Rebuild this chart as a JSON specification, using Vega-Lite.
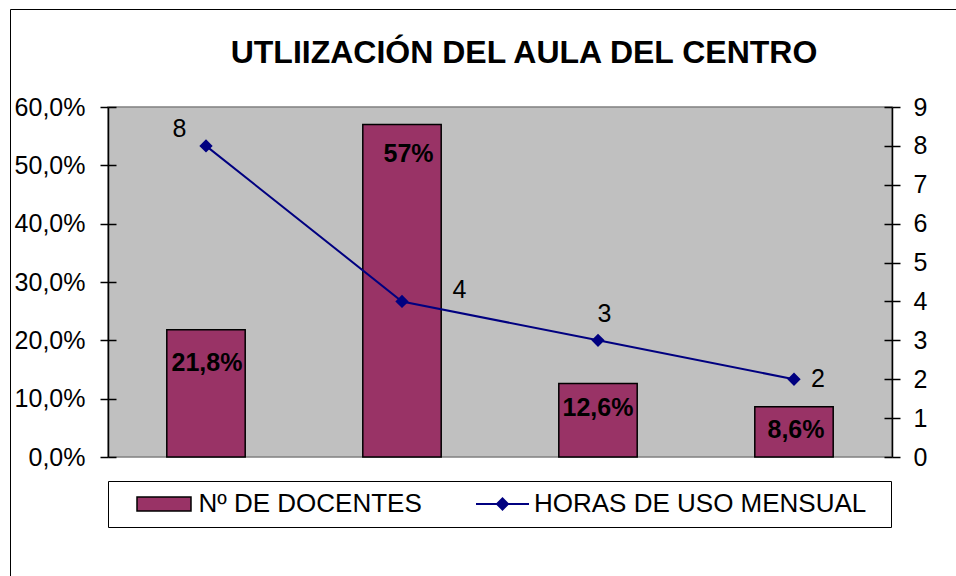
{
  "$schema": "https://vega.github.io/schema/vega-lite/v6.json",
  "width": 784,
  "height": 350,
  "autosize": {"type": "none"},
  "padding": {"left": 108, "top": 107, "right": 64, "bottom": 119},
  "background": "white",
  "title": {
    "text": "UTLIIZACIÓN DEL AULA DEL CENTRO",
    "fontSize": 32,
    "font": "Liberation Sans",
    "fontWeight": "bold",
    "color": "black",
    "anchor": "middle",
    "frame": "group",
    "dx": 24,
    "baseline": "alphabetic",
    "offset": -86
  },
  "data": {
    "values": [
      {"cat": "1", "docentes": 0.218, "horas": 8, "etq": "21,8%"},
      {"cat": "2", "docentes": 0.57, "horas": 4, "etq": "57%"},
      {"cat": "3", "docentes": 0.126, "horas": 3, "etq": "12,6%"},
      {"cat": "4", "docentes": 0.086, "horas": 2, "etq": "8,6%"}
    ]
  },
  "encoding": {
    "x": {"field": "cat", "type": "nominal", "scale": {"paddingInner": 0.6, "paddingOuter": 0.3}, "axis": null}
  },
  "layer": [
    {
      "layer": [
        {
          "mark": {"type": "bar", "stroke": "black", "strokeWidth": 1.5},
          "encoding": {
            "y": {
              "field": "docentes", "type": "quantitative",
              "scale": {"domain": [0, 0.6], "nice": false},
              "axis": {
                "orient": "left", "title": null, "values": [0, 0.1, 0.2, 0.3, 0.4, 0.5, 0.6],
                "labelExpr": "replace(format(datum.value * 100, '.1f'), '.', ',') + '%'",
                "grid": false, "domain": true, "domainColor": "black", "domainWidth": 1.5,
                "ticks": true, "tickColor": "black", "tickWidth": 1.5, "tickSize": 8,
                "labelFontSize": 25, "labelFont": "Liberation Sans", "labelColor": "black", "labelPadding": 15
              }
            },
            "color": {
              "datum": "Nº DE DOCENTES",
              "scale": {"domain": ["Nº DE DOCENTES"], "range": ["#993366"]},
              "legend": {
                "title": null, "orient": "none", "legendX": 0, "legendY": 374, "direction": "horizontal",
                "labelFontSize": 26, "labelFont": "Liberation Sans", "labelColor": "black", "labelLimit": 0,
                "labelOffset": 21.5, "padding": 10,
                "strokeColor": "black",
                "symbolType": "M101.86,0M-3.857,-1H3.857V1H-3.857Z",
                "symbolSize": 196, "symbolStrokeWidth": 1.5, "symbolStrokeColor": "black", "symbolOffset": 33
              }
            }
          }
        },
        {
          "transform": [{"filter": "datum.cat == '1'"}],
          "mark": {"type": "text", "fontWeight": "bold", "fontSize": 25, "font": "Liberation Sans", "color": "black", "baseline": "alphabetic", "align": "center", "dx": 1, "dy": 41},
          "encoding": {
            "y": {"field": "docentes", "type": "quantitative",
              "axis": {"orient": "left", "offset": -8, "title": null, "labels": false, "domain": false, "grid": false,
                "values": [0, 0.1, 0.2, 0.3, 0.4, 0.5, 0.6], "ticks": true, "tickColor": "black", "tickWidth": 1.5, "tickSize": 8}},
            "text": {"field": "etq"},
            "opacity": {
              "datum": "marco", "type": "ordinal",
              "scale": {"domain": ["marco"], "range": [1]},
              "legend": {
                "title": null, "orient": "none", "legendX": -98, "legendY": -98,
                "padding": 0, "strokeColor": "black",
                "symbolType": "M0,0M1200,900", "symbolSize": 4, "symbolStrokeWidth": 0,
                "labelExpr": "''", "labelFontSize": 1, "labelOffset": 0
              }
            }
          }
        },
        {
          "transform": [{"filter": "datum.cat == '2'"}],
          "mark": {"type": "text", "fontWeight": "bold", "fontSize": 25, "font": "Liberation Sans", "color": "black", "baseline": "alphabetic", "align": "center", "dx": 6.5, "dy": 37.5},
          "encoding": {"y": {"field": "docentes", "type": "quantitative", "axis": null}, "text": {"field": "etq"}}
        },
        {
          "transform": [{"filter": "datum.cat == '3'"}],
          "mark": {"type": "text", "fontWeight": "bold", "fontSize": 25, "font": "Liberation Sans", "color": "black", "baseline": "alphabetic", "align": "center", "dx": 0, "dy": 32.5},
          "encoding": {"y": {"field": "docentes", "type": "quantitative", "axis": null}, "text": {"field": "etq"}}
        },
        {
          "transform": [{"filter": "datum.cat == '4'"}],
          "mark": {"type": "text", "fontWeight": "bold", "fontSize": 25, "font": "Liberation Sans", "color": "black", "baseline": "alphabetic", "align": "center", "dx": 2, "dy": 31},
          "encoding": {"y": {"field": "docentes", "type": "quantitative", "axis": null}, "text": {"field": "etq"}}
        }
      ],
      "resolve": {"axis": {"y": "independent"}}
    },
    {
      "layer": [
        {
          "mark": {"type": "line", "strokeWidth": 2, "point": {"filled": true, "fill": "#000080", "shape": "diamond", "size": 110}},
          "encoding": {
            "y": {
              "field": "horas", "type": "quantitative",
              "scale": {"domain": [0, 9], "nice": false},
              "axis": {
                "orient": "right", "title": null, "values": [0, 1, 2, 3, 4, 5, 6, 7, 8, 9], "format": "d",
                "grid": false, "domain": true, "domainColor": "black", "domainWidth": 1.5,
                "ticks": true, "tickColor": "black", "tickWidth": 1.5, "tickSize": 8,
                "labelFontSize": 25, "labelFont": "Liberation Sans", "labelColor": "black", "labelPadding": 13
              }
            },
            "stroke": {
              "datum": "HORAS DE USO MENSUAL",
              "scale": {"domain": ["HORAS DE USO MENSUAL"], "range": ["#000080"]},
              "legend": {
                "title": null, "orient": "none", "legendX": 368, "legendY": 384, "direction": "horizontal",
                "labelFontSize": 26, "labelFont": "Liberation Sans", "labelColor": "black", "labelLimit": 0,
                "labelOffset": 18.5, "padding": 0,
                "symbolType": "M-3.786,0H3.786M-0.786,0L0,-0.786L0.786,0L0,0.786Z",
                "symbolSize": 196, "symbolStrokeWidth": 2, "symbolFillColor": "#000080", "symbolOffset": 13.5
              }
            }
          }
        },
        {
          "transform": [{"filter": "datum.cat == '1'"}],
          "mark": {"type": "text", "fontSize": 25, "font": "Liberation Sans", "color": "black", "baseline": "alphabetic", "align": "center", "dx": -26.5, "dy": -9},
          "encoding": {
            "y": {"field": "horas", "type": "quantitative",
              "axis": {"orient": "right", "offset": -8, "title": null, "labels": false, "domain": false, "grid": false,
                "values": [0, 1, 2, 3, 4, 5, 6, 7, 8, 9], "ticks": true, "tickColor": "black", "tickWidth": 1.5, "tickSize": 8}},
            "text": {"field": "horas"}
          }
        },
        {
          "transform": [{"filter": "datum.cat == '2'"}],
          "mark": {"type": "text", "fontSize": 25, "font": "Liberation Sans", "color": "black", "baseline": "alphabetic", "align": "center", "dx": 57.5, "dy": -3.5},
          "encoding": {"y": {"field": "horas", "type": "quantitative", "axis": null}, "text": {"field": "horas"}}
        },
        {
          "transform": [{"filter": "datum.cat == '3'"}],
          "mark": {"type": "text", "fontSize": 25, "font": "Liberation Sans", "color": "black", "baseline": "alphabetic", "align": "center", "dx": 6.5, "dy": -18},
          "encoding": {"y": {"field": "horas", "type": "quantitative", "axis": null}, "text": {"field": "horas"}}
        },
        {
          "transform": [{"filter": "datum.cat == '4'"}],
          "mark": {"type": "text", "fontSize": 25, "font": "Liberation Sans", "color": "black", "baseline": "alphabetic", "align": "center", "dx": 24, "dy": 8},
          "encoding": {"y": {"field": "horas", "type": "quantitative", "axis": null}, "text": {"field": "horas"}}
        }
      ],
      "resolve": {"axis": {"y": "independent"}}
    }
  ],
  "resolve": {"scale": {"y": "independent"}},
  "config": {
    "font": "Liberation Sans",
    "view": {"fill": "#C0C0C0", "stroke": "#808080", "strokeWidth": 1.5}
  }
}
